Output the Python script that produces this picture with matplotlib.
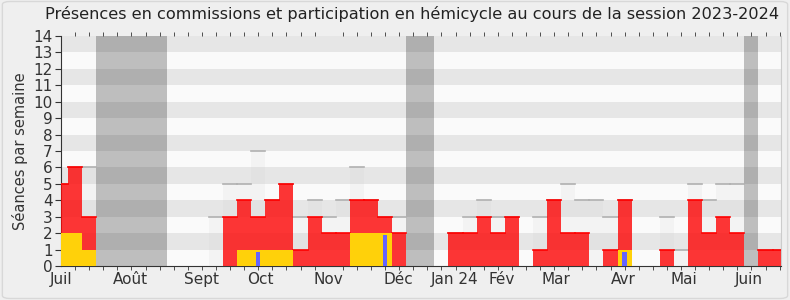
import numpy as np
import matplotlib.pyplot as plt
from matplotlib.patches import FancyBboxPatch

# ============================================================
# Données (une valeur par semaine, semaine 0 = début juillet 2023)
# ============================================================

rouge = [5, 6, 3, 0, 0, 0, 0, 0, 0, 0, 0, 0, 3, 4, 3, 4, 5, 1, 3, 2,
         2, 4, 4, 3, 2, 0, 0, 0, 2, 2, 3, 2, 3, 0, 1, 4, 2, 2, 0, 1,
         4, 0, 0, 1, 0, 4, 2, 3, 2, 0, 1, 1]
total = [5, 6, 6, 0, 0, 0, 0, 0, 0, 0, 0, 3, 5, 5, 7, 4, 5, 3, 4, 3,
         4, 6, 4, 3, 3, 0, 0, 0, 2, 3, 4, 3, 3, 0, 3, 4, 5, 4, 4, 3,
         4, 0, 0, 3, 1, 5, 4, 5, 5, 0, 1, 1]
jaune = [2, 2, 1, 0, 0, 0, 0, 0, 0, 0, 0, 0, 0, 1, 1, 1, 1, 0, 0, 0,
         0, 2, 2, 2, 0, 0, 0, 0, 0, 0, 0, 0, 0, 0, 0, 0, 0, 0, 0, 0,
         1, 0, 0, 0, 0, 0, 0, 0, 0, 0, 0, 0]
bleu_semaines = [14, 23, 40]
bleu_valeurs = [0.87, 1.9, 0.87]

vacances = [(3, 7), (25, 26), (49, 49)]

mois = ["Juil", "Août", "Sept", "Oct", "Nov", "Déc", "Jan 24", "Fév",
        "Mar", "Avr", "Mai", "Juin"]
mois_pos = [0, 4.96, 9.97, 14.15, 19.0, 23.97, 27.93, 31.25, 35.1, 39.9,
            44.2, 48.8]

semaines = np.arange(len(rouge))

# ============================================================
# Figure
# ============================================================

fig = plt.figure(figsize=(7.9, 3.0), dpi=100)
fig.patch.set_facecolor('#efefef')
fig.patches.append(FancyBboxPatch((0.003, 0.005), 0.994, 0.99,
                                  boxstyle="round,pad=0,rounding_size=0.01",
                                  transform=fig.transFigure, fc='none',
                                  ec='#d8d8d8', lw=1))

ax = fig.add_axes([61 / 790, 34 / 300, 720 / 790, 230 / 300])
ax.set_facecolor('#fafafa')
ax.set_xlim(0, 51.1)
ax.set_ylim(0, 14)

# Vacances parlementaires
for a, b in vacances:
    ax.axvspan(a - 0.5, b + 0.5, color='#bebebe', lw=0, zorder=1)

# Bandes horizontales
for k in range(1, 14, 2):
    ax.axhspan(k, k + 1, color='black', alpha=0.08, lw=0, zorder=2)

# Barres
ax.bar(semaines, total, width=1, color='#d0d0d0', alpha=0.15, lw=0, zorder=3)
for s, t in zip(semaines, total):
    if t > 0:
        ax.plot([s - 0.5, s + 0.5], [t, t], color='#b0b0b0', lw=1.2, zorder=3)
ax.bar(semaines, rouge, width=1, color='red', alpha=0.78, lw=0, zorder=4)
for s, r in zip(semaines, rouge):
    if r > 0:
        ax.plot([s - 0.5, s + 0.5], [r, r], color='#ff0000', lw=1.2, zorder=4)
ax.bar(semaines, jaune, width=1, color='#ffd10a', lw=0, zorder=5)
ax.bar(bleu_semaines, bleu_valeurs, width=0.3, color='#6464ff', lw=0, zorder=6)

# Axes
ax.set_yticks(range(15))
ax.set_xticks(mois_pos)
ax.set_xticklabels(mois)
ax.set_xticks(semaines, minor=True)
ax.tick_params(axis='x', which='major', length=0, labelsize=11,
               labelcolor='#333333', pad=4)
ax.tick_params(axis='x', which='minor', length=3, color='#333333',
               top=True, direction='out')
ax.tick_params(axis='y', length=4, color='#333333', labelsize=11,
               labelcolor='#333333', pad=2)
ax.set_ylabel("Séances par semaine", fontsize=10.5, color='#333333', labelpad=4)

ax.spines['top'].set_visible(False)
ax.spines['right'].set_color('#cccccc')
ax.spines['left'].set_color('#333333')
ax.spines['bottom'].set_color('#333333')

fig.text(0.522, 0.955, "Présences en commissions et participation en hémicycle "
         "au cours de la session 2023-2024", ha='center', va='center',
         fontsize=11.6, color='#222222')

fig.savefig("out.png", dpi=100, facecolor=fig.get_facecolor())
